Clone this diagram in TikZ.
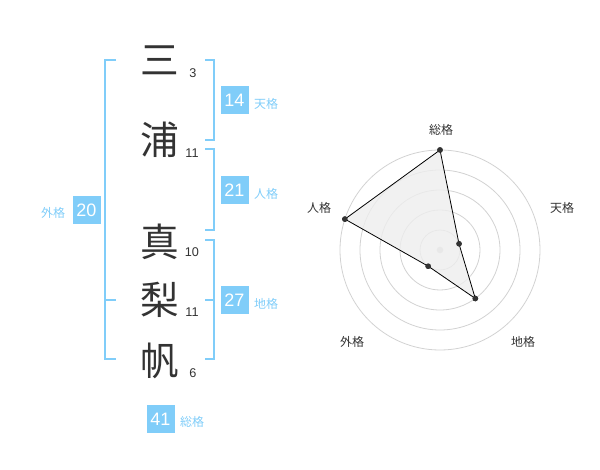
\documentclass[tikz,border=0pt]{standalone}
\usepackage{fontspec}
\setmainfont{Noto Sans CJK JP}
\newfontfamily\digitfont{Liberation Sans}
\definecolor{lblue}{RGB}{128,205,249}
\definecolor{dgray}{RGB}{51,51,51}
\definecolor{ring}{RGB}{210,210,210}
\definecolor{areafill}{RGB}{238,238,238}
\begin{document}
\begin{tikzpicture}[x=0.75pt,y=-0.75pt,
  brk/.style={draw=lblue, line width=1.5pt},
  kanji/.style={font=\fontsize{29}{29}\selectfont, text=dgray, inner sep=0},
  strokes/.style={font=\digitfont\fontsize{9.5}{10}\selectfont, text=dgray, inner sep=0},
  numbox/.style={fill=lblue, text=white, minimum width=21pt, minimum height=21pt, inner sep=0, font=\digitfont\fontsize{13.5}{14}\selectfont},
  lbl/.style={text=lblue, font=\fontsize{9}{10}\selectfont, inner sep=0},
  axislbl/.style={text=dgray, font=\fontsize{9}{10}\selectfont, inner sep=0},
  pt/.style={circle, fill=dgray, inner sep=0, minimum size=4.2pt},
  ringc/.style={draw=ring, line width=0.6pt}
]
\useasboundingbox (0,0) rectangle (600,470);

% characters
\node[kanji] (c1) at (160,60) {三};
\node[kanji] (c2) at (160,140) {浦};
\node[kanji] (c3) at (160,242) {真};
\node[kanji] (c4) at (160,300) {梨};
\node[kanji] (c5) at (160,361) {帆};
\node[strokes] (s1) at (193,73) {3};
\node[strokes] (s2) at (192,153) {11};
\node[strokes] (s3) at (192,252) {10};
\node[strokes] (s4) at (192,312) {11};
\node[strokes] (s5) at (193,373) {6};

% brackets
\draw[brk] (116,60) -- (105,60) -- (105,359) -- (116,359);
\draw[brk] (105,300) -- (116,300);
\draw[brk] (205,60) -- (214,60) -- (214,140) -- (205,140);
\draw[brk] (205,149) -- (214,149) -- (214,230) -- (205,230);
\draw[brk] (205,240) -- (214,240) -- (214,359) -- (205,359);
\draw[brk] (205,300) -- (214,300);

% scores
\node[numbox] (b1) at (234.5,100) {14};
\node[lbl] (l1) at (266,104) {天格};
\node[numbox] (b2) at (234.5,190) {21};
\node[lbl] (l2) at (266,194) {人格};
\node[numbox] (b3) at (234.5,300) {27};
\node[lbl] (l3) at (266,304) {地格};
\node[numbox] (b4) at (86.5,210.5) {20};
\node[lbl] (l4) at (53,213) {外格};
\node[numbox] (b5) at (160.5,419) {41};
\node[lbl] (l5) at (192,422) {総格};

% radar
\foreach \r in {20,40,60,80,100} \draw[ringc] (440,250) circle[radius=\r];
\node[circle, fill=ring, inner sep=0, minimum size=5pt] (ctr) at (440,250) {};
\node[pt] (p1) at (440,150) {};
\node[pt] (p2) at (459.0,243.8) {};
\node[pt] (p3) at (475.3,298.5) {};
\node[pt] (p4) at (428.2,266.2) {};
\node[pt] (p5) at (344.9,219.1) {};
\fill[areafill, opacity=0.8] (p1.center) -- (p2.center) -- (p3.center) -- (p4.center) -- (p5.center) -- cycle;
\draw[black, line width=0.6pt] (p1.center) -- (p2.center) -- (p3.center) -- (p4.center) -- (p5.center) -- cycle;
\foreach \p in {p1,p2,p3,p4,p5} \fill[dgray] (\p) circle[radius=2.8];
\node[axislbl] (a1) at (441,130) {総格};
\node[axislbl] (a2) at (562,208) {天格};
\node[axislbl] (a3) at (523,342) {地格};
\node[axislbl] (a4) at (352,342) {外格};
\node[axislbl] (a5) at (319,208) {人格};
\end{tikzpicture}
\end{document}
